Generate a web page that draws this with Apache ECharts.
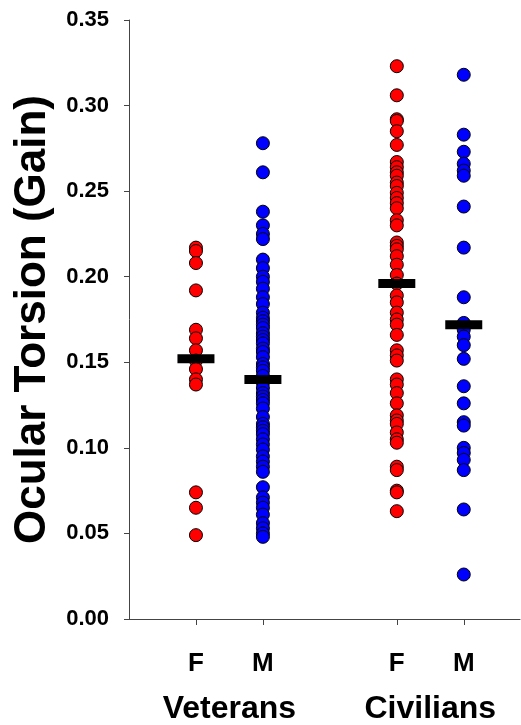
<!DOCTYPE html>
<html>
<head>
<meta charset="utf-8">
<script src="https://cdn.jsdelivr.net/npm/echarts@6.0.0/dist/echarts.min.js"></script>
<style>
html,body{margin:0;padding:0;background:#fff;}
#chart{width:521px;height:725px;}
</style>
</head>
<body>
<div id="chart"></div>
<script>
// Category positions on the x scale and their labels
var sexLabels = ['F', 'M', 'F', 'M'];
var sexPositions = [1, 2, 4, 5];
var groupLabels = ['Veterans', 'Civilians'];
var groupPositions = [1.5, 4.5];
var yTicks = [0, 0.05, 0.10, 0.15, 0.20, 0.25, 0.30, 0.35];

// Ocular torsion gain values
var veteransF = [0.217, 0.215, 0.208, 0.192, 0.169, 0.164, 0.157, 0.151, 0.146, 0.140, 0.137, 0.074, 0.065, 0.049];
var veteransM = [0.278, 0.261, 0.238, 0.230, 0.225, 0.222, 0.210, 0.205, 0.200, 0.197, 0.193, 0.188, 0.184, 0.179,
                 0.176, 0.174, 0.172, 0.170, 0.167, 0.165, 0.163, 0.161, 0.158, 0.156, 0.153, 0.149, 0.147, 0.145,
                 0.142, 0.138, 0.135, 0.132, 0.130, 0.128, 0.126, 0.123, 0.118, 0.114, 0.112, 0.110, 0.108, 0.105,
                 0.102, 0.099, 0.095, 0.092, 0.089, 0.086, 0.077, 0.071, 0.068, 0.065, 0.061, 0.056, 0.053, 0.050, 0.048];
var civiliansF = [0.323, 0.306, 0.292, 0.291, 0.285, 0.277, 0.267, 0.264, 0.261, 0.259, 0.255, 0.253, 0.249, 0.246,
                  0.243, 0.240, 0.233, 0.230, 0.220, 0.218, 0.216, 0.212, 0.207, 0.201, 0.196, 0.189, 0.185, 0.179,
                  0.175, 0.172, 0.166, 0.157, 0.154, 0.151, 0.140, 0.137, 0.132, 0.126, 0.119, 0.116, 0.114, 0.109,
                  0.105, 0.103, 0.089, 0.087, 0.075, 0.074, 0.063];
var civiliansM = [0.318, 0.283, 0.273, 0.266, 0.262, 0.259, 0.241, 0.217, 0.188, 0.173, 0.169, 0.165, 0.160, 0.152,
                  0.136, 0.126, 0.115, 0.113, 0.100, 0.097, 0.093, 0.087, 0.064, 0.026];
// Group means (black bars)
var groupMeans = [0.152, 0.140, 0.196, 0.172];

var font = '"Liberation Sans", Arial, Helvetica, sans-serif';

function toPoints(x, arr) {
  return arr.map(function (v) { return [x, v]; });
}
var meanPoints = groupMeans.map(function (v, i) { return [sexPositions[i], v]; });

var dotStyle = function (color) {
  return { color: color, borderColor: '#000', borderWidth: 1, opacity: 1 };
};

var chart = echarts.init(document.getElementById('chart'), null, { renderer: 'canvas' });
chart.setOption({
  animation: false,
  backgroundColor: '#fff',
  grid: { left: 129, right: 1, top: 20, bottom: 106, containLabel: false, outerBoundsMode: 'none' },
  xAxis: [{
    type: 'value', min: 0, max: 5.84, position: 'bottom',
    axisLine: { show: true, onZero: false, lineStyle: { color: '#444', width: 1 } },
    axisTick: { show: true, customValues: sexPositions, length: 6, lineStyle: { color: '#444' } },
    axisLabel: {
      show: true, customValues: sexPositions,
      formatter: function (v) { var i = sexPositions.indexOf(v); return i >= 0 ? sexLabels[i] : ''; },
      fontFamily: font, fontWeight: 'bold', fontSize: 26, color: '#000', margin: 32
    },
    splitLine: { show: false }
  }, {
    type: 'value', min: 0, max: 5.84, position: 'bottom', offset: 0,
    axisLine: { show: false }, axisTick: { show: false }, splitLine: { show: false },
    axisLabel: {
      show: true, customValues: groupPositions,
      formatter: function (v) { var i = groupPositions.indexOf(v); return i >= 0 ? groupLabels[i] : ''; },
      fontFamily: font, fontWeight: 'bold', fontSize: 32, color: '#000', margin: 74
    }
  }],
  yAxis: {
    type: 'value', min: 0, max: 0.35, interval: 0.05,
    name: 'Ocular Torsion (Gain)', nameLocation: 'middle', nameRotate: 90, nameGap: 69,
    nameTextStyle: { fontFamily: font, fontWeight: 'bold', fontSize: 44, color: '#000' },
    axisLine: { show: true, lineStyle: { color: '#444', width: 1 } },
    axisTick: { show: true, length: 5, lineStyle: { color: '#444' } },
    axisLabel: {
      formatter: function (v) { return v.toFixed(2); },
      fontFamily: font, fontWeight: 'bold', fontSize: 22, color: '#000', margin: 20
    },
    splitLine: { show: false }
  },
  series: [
    { type: 'scatter', symbol: 'circle', symbolSize: 13, data: toPoints(sexPositions[0], veteransF), itemStyle: dotStyle('#ff0000'), z: 2 },
    { type: 'scatter', symbol: 'circle', symbolSize: 13, data: toPoints(sexPositions[1], veteransM), itemStyle: dotStyle('#0000ff'), z: 2 },
    { type: 'scatter', symbol: 'circle', symbolSize: 13, data: toPoints(sexPositions[2], civiliansF), itemStyle: dotStyle('#ff0000'), z: 2 },
    { type: 'scatter', symbol: 'circle', symbolSize: 13, data: toPoints(sexPositions[3], civiliansM), itemStyle: dotStyle('#0000ff'), z: 2 },
    { type: 'scatter', symbol: 'rect', symbolSize: [37, 9], data: meanPoints, itemStyle: { color: '#000', opacity: 1 }, z: 5 }
  ]
});
</script>
</body>
</html>
